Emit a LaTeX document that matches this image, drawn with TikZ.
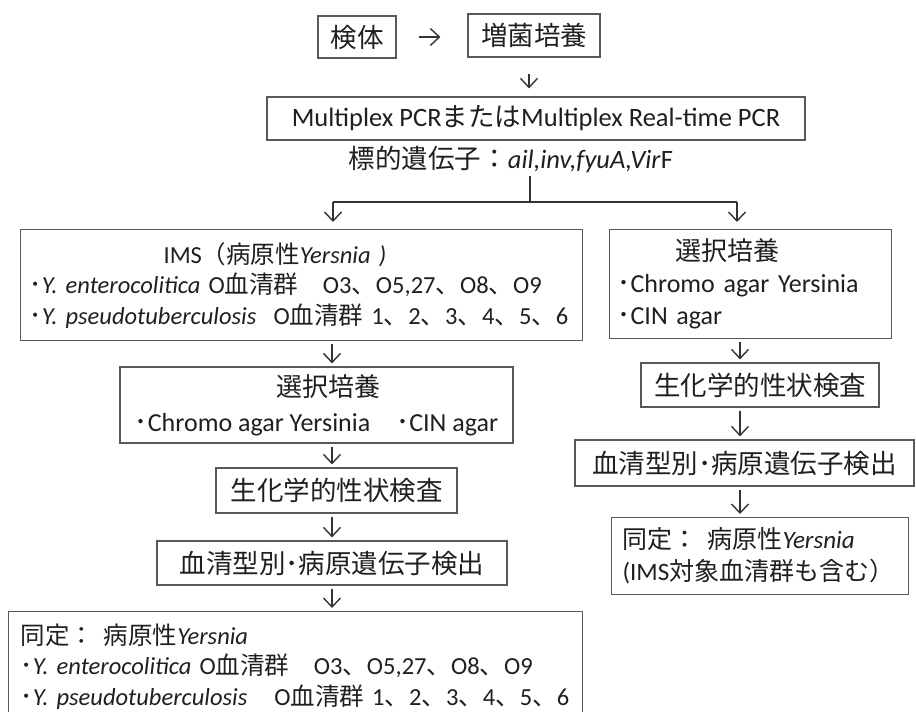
\documentclass[tikz,border=0pt]{standalone}
\usepackage{fontspec}
\setmainfont{Carlito}
\newfontfamily\jpfont{Noto Sans CJK JP}
\usetikzlibrary{positioning, arrows.meta}
\newcommand{\jt}[1]{{\jpfont #1}}
\newcommand{\dotmark}{\jt{･}}
\newcommand{\fbig}{\fontsize{26.5}{32}\selectfont}
\newcommand{\fmid}{\fontsize{25}{32}\selectfont}
\newcommand{\fsmall}{\fontsize{24.5}{30.5}\selectfont}

\begin{document}
\begin{tikzpicture}[x=1pt, y=-1pt,
    font=\fbig, text=black!88,
    box/.style={rectangle, draw=black!65, line width=1.2pt, inner sep=0pt, align=center},
    lbox/.style={box, align=left, anchor=north west},
    arr/.style={-{Straight Barb[length=9pt, width=17pt]}, line width=1.4pt, black!80},
    link/.style={line width=1.1pt, black!80}
]
\useasboundingbox (0,0) rectangle (916,712);
\clip (0,0) rectangle (916,712);

% top
\node[box, minimum width=78pt, minimum height=42pt] (sample) at (357,37) {\jt{検体}};
\node[box, minimum width=132pt, minimum height=43pt] (enrich) at (534,35.5) {\jt{増菌培養}};
\node[box, minimum width=538pt, minimum height=43pt] (pcr) at (536,118.5)
    {Multiplex PCR\jt{または}Multiplex Real-time PCR};
\node (target) at (511,159) {\jt{標的遺伝子：}\textit{ail,inv,fyuA,Vir}F};

% left branch
\node[lbox, font=\fsmall, minimum height=111pt, inner xsep=9pt, text width=544pt] (ims) at (20,229)
    {\hspace*{134pt}IMS\jt{（病原性}\textit{Yersnia~)}\\
     \dotmark\textit{Y. enterocolitica} O\jt{血清群　}O3\jt{、}O5,27\jt{、}O8\jt{、}O9\\
     \dotmark\textit{Y. pseudotuberculosis}\hspace{0.7em}O\jt{血清群} 1\jt{、}2\jt{、}3\jt{、}4\jt{、}5\jt{、}6};
\node[box, font=\fontsize{26}{35}\selectfont, minimum width=393pt, minimum height=76pt] (selL) at (316.5,405)
    {\hspace*{24pt}\jt{選択培養}\\
     \dotmark Chromo agar Yersinia\jt{　･}CIN agar};
\node[box, minimum width=241pt, minimum height=45pt] (bioL) at (336.5,490.5) {\jt{生化学的性状検査}};
\node[box, minimum width=350pt, minimum height=44pt] (seroL) at (332,563) {\jt{血清型別･病原遺伝子検出}};
\node[lbox, font=\fsmall, minimum height=110pt, inner xsep=12pt, text width=550pt] (idL) at (8,611)
    {\jt{同定：}\hspace{0.4em}\jt{病原性}\textit{Yersnia}\\
     \dotmark\textit{Y. enterocolitica} O\jt{血清群　}O3\jt{、}O5,27\jt{、}O8\jt{、}O9\\
     \dotmark\textit{Y. pseudotuberculosis}\hspace{1.1em}O\jt{血清群} 1\jt{、}2\jt{、}3\jt{、}4\jt{、}5\jt{、}6};

% right branch
\node[lbox, font=\fontsize{26}{32}\selectfont, minimum height=109pt, inner xsep=8pt, text width=266pt] (selR) at (609,229)
    {\hspace*{58pt}\jt{選択培養}\\
     \dotmark Chromo agar Yersinia\\
     \dotmark CIN agar};
\node[box, minimum width=238pt, minimum height=44pt] (bioR) at (760,385) {\jt{生化学的性状検査}};
\node[box, minimum width=339pt, minimum height=46pt] (seroR) at (744.5,463) {\jt{血清型別･病原遺伝子検出}};
\node[lbox, font=\fmid, minimum height=77pt, inner xsep=11pt, text width=275pt] (idR) at (611,517)
    {\jt{同定：}\hspace{0.4em}\jt{病原性}\textit{Yersnia}\\
     (IMS\jt{対象血清群も含む）}};

% connectors
\coordinate (fork) at (530,202);
\coordinate (forkL) at (333,202);
\coordinate (forkR) at (737,202);
\coordinate (colL) at (332,0);
\coordinate (colR) at (740,0);

\draw[arr, shorten <=22pt, shorten >=27pt] (sample.east) -- (enrich.west |- sample.east);
\draw[arr, shorten <=16pt, shorten >=8pt] ([xshift=-5pt]enrich.south) -- ([xshift=-5pt]enrich.south |- pcr.north);
\draw[link] (fork |- target.south) -- (fork);
\draw[link] (forkL) -- (forkR);
\draw[arr, shorten >=7pt] (forkL) -- (forkL |- ims.north);
\draw[arr, shorten >=7pt] (forkR) -- (forkR |- selR.north);

\foreach \a/\b in {ims/selL, selL/bioL, bioL/seroL, seroL/idL}
    \draw[arr, shorten <=3pt, shorten >=3pt] (colL |- \a.south) -- (colL |- \b.north);
\foreach \a/\b in {selR/bioR, bioR/seroR, seroR/idR}
    \draw[arr, shorten <=3pt, shorten >=3pt] (colR |- \a.south) -- (colR |- \b.north);
\end{tikzpicture}
\end{document}
